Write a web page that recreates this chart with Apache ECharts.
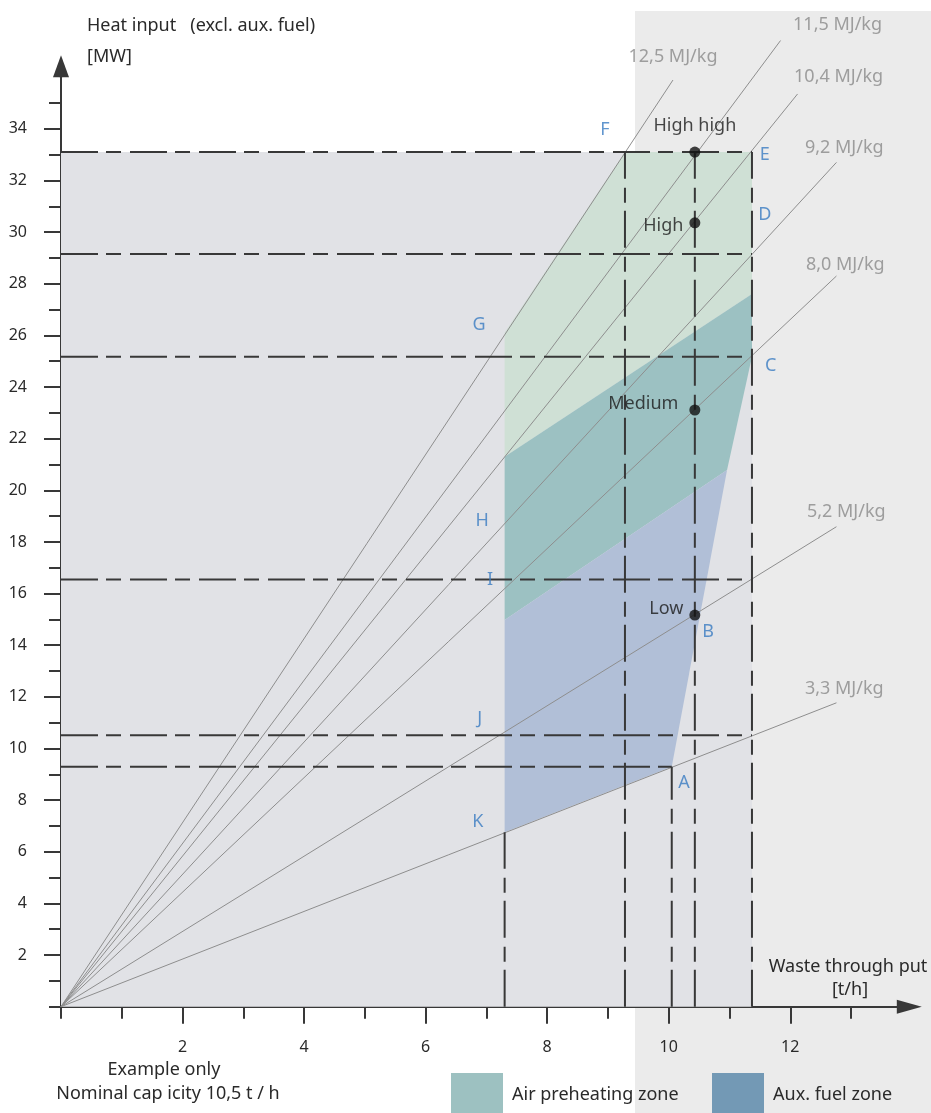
<!DOCTYPE html>
<html><head><meta charset="utf-8">
<script src="https://cdn.jsdelivr.net/npm/echarts@6/dist/echarts.min.js"></script>
<style>html,body{margin:0;padding:0;background:#fff}#c{width:931px;height:1113px}</style>
</head><body><div id="c"></div>
<script>
const FONT = "'Noto Sans', 'Open Sans', sans-serif";
// calorific value lines (from origin to end point)
const fuelNames = ['12,5 MJ/kg','11,5 MJ/kg','10,4 MJ/kg','9,2 MJ/kg','8,0 MJ/kg','5,2 MJ/kg','3,3 MJ/kg'];
const fuelEndX = [10.07, 11.84, 12.12, 12.76, 12.76, 12.76, 12.76];
const fuelEndY = [35.89, 37.42, 35.35, 32.70, 28.30, 18.59, 11.77];
// firing diagram
const diagramBox = [[0, 0], [11.37, 33.1]];
const greenZone = [[7.3,26.1],[9.28,33.1],[11.37,33.1],[11.37,27.6],[7.3,21.3]];
const airZone = [[7.3,21.3],[11.37,27.6],[11.37,25.17],[10.96,20.79],[7.3,14.98]];
const auxZone = [[7.3,14.98],[10.96,20.79],[10.05,9.29],[7.3,6.76]];
// dashed reference lines
const hLineY = [33.1, 29.15, 25.17, 16.55, 10.51, 9.29];
const hLineXEnd = [11.37, 11.37, 11.37, 11.37, 11.37, 10.05];
const vLineX = [9.28, 10.43, 11.37, 7.3, 10.05];
const vLineYEnd = [33.1, 33.1, 33.1, 6.76, 9.29];
// load points
const loadNames = ['High high', 'High', 'Medium', 'Low'];
const loadX = [10.43, 10.43, 10.43, 10.43];
const loadY = [33.1, 30.36, 23.11, 15.17];
// corner letters
const letterNames = ['F','E','D','C','B','A','G','H','I','J','K'];
const letterX = [8.95, 11.58, 11.58, 11.68, 10.65, 10.25, 6.88, 6.93, 7.06, 6.89, 6.86];
const letterY = [33.95, 32.99, 30.66, 24.81, 14.5, 8.66, 26.4, 18.81, 16.53, 11.14, 7.15];
// axis ticks
const xMajorTicks = [2, 4, 6, 8, 10, 12];
const xMinorTicks = [0, 1, 3, 5, 7, 9, 11, 13];
const xTickLabels = [2, 4, 6, 8, 10, 12];
const yMajorTicks = [2,4,6,8,10,12,14,16,18,20,22,24,26,28,30,32,34];
const yMinorTicks = [0,1,3,5,7,9,11,13,15,17,19,21,23,25,27,29,31,33,35];
const yTickLabels = [2,4,6,8,10,12,14,16,18,20,22,24,26,28,30,32,34];

// styles
const FS = 18;
const fuelLabelOffset = [[-45,-23],[12,-16],[-4,-17],[-32,-15],[-31,-11],[-30,-15],[-32,-14]];
const loadLabelStyle = [
  {position:'top', distance:12},
  {position:'left', distance:6, offset:[0,3]},
  {position:'left', distance:11, offset:[0,-6]},
  {position:'left', distance:6, offset:[0,-6]}
];
const AX = '#383838';

function polySeries(name, pts, color, z) {
  return {
    type: 'custom', name: name, coordinateSystem: 'cartesian2d', z: z, silent: true,
    data: pts, encode: {x: 0, y: 1}, itemStyle: {color: color}, animation: false,
    renderItem: function (params, api) {
      if (params.dataIndex !== 0) return null;
      return {type: 'polygon', shape: {points: pts.map(p => api.coord(p))}, style: {fill: color}};
    }
  };
}

const series = [];
series.push({
  type: 'custom', coordinateSystem: 'cartesian2d', z: 1, silent: true, animation: false,
  data: diagramBox, encode: {x: 0, y: 1},
  renderItem: function (params, api) {
    if (params.dataIndex !== 0) return null;
    const a = api.coord([diagramBox[0][0], diagramBox[1][1]]);
    const b = api.coord([diagramBox[1][0], diagramBox[0][1]]);
    return {type: 'rect', shape: {x: a[0], y: a[1], width: b[0] - a[0], height: b[1] - a[1]}, style: {fill: '#e1e2e6'}};
  }
});
series.push(polySeries('Normal zone', greenZone, '#cfe0d5', 2));
series.push(polySeries('Air preheating zone', airZone, '#9cc1c2', 2));
series.push(polySeries('Aux. fuel zone', auxZone, '#b1bfd7', 2));

fuelNames.forEach((n, i) => {
  series.push({
    type: 'line', name: n, data: [[0, 0], [fuelEndX[i], fuelEndY[i]]], symbol: 'none', clip: false,
    lineStyle: {color: '#8e8e8e', width: 1}, z: 4, silent: true, animation: false
  });
});
hLineY.forEach((y, i) => {
  series.push({
    type: 'line', data: [[0, y], [hLineXEnd[i], y]], symbol: 'none', clip: false,
    lineStyle: {color: '#383838', width: 2, type: [37, 8, 15, 9]}, z: 5, silent: true, animation: false
  });
});
vLineX.forEach((x, i) => {
  series.push({
    type: 'line', data: [[x, 0], [x, vLineYEnd[i]]], symbol: 'none', clip: false,
    lineStyle: {color: '#383838', width: 2, type: [37, 8, 15, 9]}, z: 5, silent: true, animation: false
  });
});
series.push({
  type: 'scatter', clip: false, z: 8, silent: true, animation: false,
  symbolSize: 1, itemStyle: {color: 'rgba(0,0,0,0)'},
  data: fuelNames.map((n, i) => ({
    name: n, value: [fuelEndX[i], fuelEndY[i]],
    label: {show: true, position: 'right', distance: 0, offset: fuelLabelOffset[i], formatter: n,
      color: '#8a8a8a', fontSize: FS, fontFamily: FONT}
  }))
});
series.push({
  type: 'scatter', clip: false, z: 9, silent: true, animation: false,
  symbolSize: 11, itemStyle: {color: '#111'},
  data: loadNames.map((n, i) => ({
    name: n, value: [loadX[i], loadY[i]],
    label: Object.assign({show: true, formatter: n, color: '#1a1a1a', fontSize: FS, fontFamily: FONT}, loadLabelStyle[i])
  }))
});
series.push({
  type: 'scatter', clip: false, z: 9, silent: true, animation: false,
  symbolSize: 1, itemStyle: {color: 'rgba(0,0,0,0)'},
  data: letterNames.map((n, i) => ({
    name: n, value: [letterX[i], letterY[i]],
    label: {show: true, position: 'inside', formatter: n, color: '#3a7cc2', fontSize: FS, fontFamily: FONT}
  }))
});

const txt = (s, x, y, align) => ({type: 'text', z: 10, x: x, y: y, silent: true,
  style: {text: s, fill: '#2a2a2a', font: FS + 'px ' + FONT, align: align, verticalAlign: 'middle'}});

const chart = echarts.init(document.getElementById('c'), null, {renderer: 'canvas'});
chart.setOption({
  animation: false,
  backgroundColor: '#ffffff',
  textStyle: {fontFamily: FONT},
  grid: {left: 61, right: 19.2, top: 77.2, bottom: 106.3, containLabel: false},
  xAxis: [
    {type: 'value', min: 0, max: 14, interval: 2,
      axisLine: {show: true, lineStyle: {color: AX, width: 2}, symbol: ['none', 'triangle'], symbolSize: [14, 25], symbolOffset: [0, -2.5]},
      axisTick: {show: true, customValues: xMajorTicks, length: 17, lineStyle: {color: AX, width: 2}},
      axisLabel: {customValues: xTickLabels, margin: 33, fontSize: 16, color: '#2a2a2a', fontFamily: FONT},
      splitLine: {show: false}},
    {type: 'value', min: 0, max: 14, interval: 1, position: 'bottom',
      axisLine: {show: false},
      axisTick: {show: true, customValues: xMinorTicks, length: 12, lineStyle: {color: AX, width: 2}},
      axisLabel: {show: false}, splitLine: {show: false}}
  ],
  yAxis: [
    {type: 'value', min: 0, max: 36, interval: 2,
      axisLine: {show: true, lineStyle: {color: AX, width: 2}, symbol: ['none', 'triangle'], symbolSize: [16, 22], symbolOffset: [0, 11]},
      axisTick: {show: true, customValues: yMajorTicks, length: 17, lineStyle: {color: AX, width: 2}},
      axisLabel: {customValues: yTickLabels, margin: 34, fontSize: 16, color: '#2a2a2a', fontFamily: FONT},
      splitLine: {show: false}},
    {type: 'value', min: 0, max: 36, interval: 1, position: 'left',
      axisLine: {show: false},
      axisTick: {show: true, customValues: yMinorTicks, length: 12, lineStyle: {color: AX, width: 2}},
      axisLabel: {show: false}, splitLine: {show: false}}
  ],
  legend: [
    {left: 451, top: 1073, padding: 0, itemWidth: 52, itemHeight: 44, icon: 'rect', selectedMode: false,
      data: [{name: 'Air preheating zone', itemStyle: {color: '#9dc1c1'}}],
      textStyle: {fontSize: FS, color: '#2a2a2a', fontFamily: FONT, padding: [0, 0, 0, 4]}},
    {left: 712, top: 1073, padding: 0, itemWidth: 52, itemHeight: 44, icon: 'rect', selectedMode: false,
      data: [{name: 'Aux. fuel zone', itemStyle: {color: '#7399b5'}}],
      textStyle: {fontSize: FS, color: '#2a2a2a', fontFamily: FONT, padding: [0, 0, 0, 4]}}
  ],
  graphic: [
    {type: 'rect', z: -10, silent: true, shape: {x: 635, y: 11, width: 300, height: 1110}, style: {fill: '#ebebeb'}},
    txt('Heat input   (excl. aux. fuel)', 87, 26, 'left'),
    txt('[MW]', 87, 57, 'left'),
    txt('Waste through put', 848, 967, 'center'),
    txt('[t/h]', 850, 990, 'center'),
    txt('Example only', 164, 1070, 'center'),
    txt('Nominal cap icity 10,5 t / h', 168, 1094, 'center')
  ],
  series: series
});
</script></body></html>
